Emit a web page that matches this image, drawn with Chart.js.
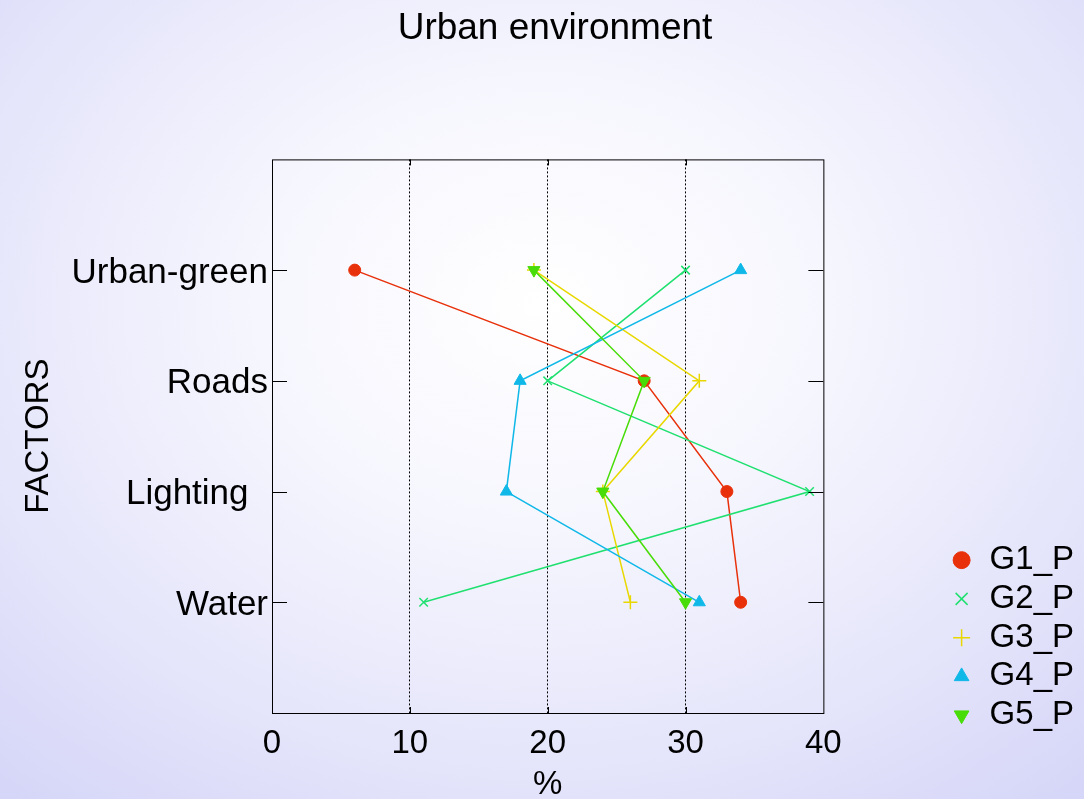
<!DOCTYPE html>
<html>
<head>
<meta charset="utf-8">
<title>Urban environment</title>
<script src="https://cdn.jsdelivr.net/npm/chart.js@4.4.1/dist/chart.umd.min.js"></script>
<style>
  html, body { margin: 0; padding: 0; }
  body {
    width: 1084px; height: 799px; overflow: hidden;
    background: radial-gradient(ellipse 75% 80% at 50% 38%, #ffffff 0%, #f6f6fe 35%, #e6e6fb 70%, #d6d6f8 100%);
  }
</style>
</head>
<body>
<canvas id="chartUrban" width="1084" height="799"></canvas>
<script>
const factores = ['Urban-green', 'Roads', 'Lighting  ', 'Water']
const grupos = ['G1_P', 'G2_P', 'G3_P', 'G4_P', 'G5_P']
const g1 = [6, 27, 33, 34]
const g2 = [30, 20, 39, 11]
const g3 = [19, 31, 24, 26]
const g4 = [34, 18, 17, 31]
const g5 = [19, 27, 24, 30]
const xTicks = [0, 10, 20, 30, 40]

const fuente = '"Liberation Sans", Arial, sans-serif'
Chart.defaults.color = '#000'
Chart.defaults.font.family = fuente

const estilos = [
    { color: '#e8300a', pointStyle: 'circle', radius: 6, bw: 1, rot: 0 },
    { color: '#20e070', pointStyle: 'crossRot', radius: 6, bw: 1.5, rot: 0 },
    { color: '#e8d800', pointStyle: 'cross', radius: 7, bw: 1.5, rot: 0 },
    { color: '#10b8e8', pointStyle: 'triangle', radius: 7, bw: 1, rot: 0 },
    { color: '#48dc08', pointStyle: 'triangle', radius: 7, bw: 1, rot: 180 }
]

const series = [g1, g2, g3, g4, g5]

// marco con ticks hacia adentro
const marco = {
    id: 'marco',
    afterDatasetsDraw(chart) {
        const { ctx, chartArea: a, scales } = chart
        ctx.save()
        ctx.strokeStyle = '#000'
        ctx.lineWidth = 1
        ctx.strokeRect(a.left + 0.5, a.top + 0.5, a.right - a.left, a.bottom - a.top)
        ctx.beginPath()
        factores.forEach((f, i) => {
            const y = Math.round(scales.y.getPixelForValue(i + 1)) + 0.5
            ctx.moveTo(a.left, y); ctx.lineTo(a.left + 15, y)
            ctx.moveTo(a.right - 15, y); ctx.lineTo(a.right, y)
        })
        xTicks.slice(1, -1).forEach(v => {
            const x = Math.round(scales.x.getPixelForValue(v)) + 0.5
            ctx.moveTo(x, a.top); ctx.lineTo(x, a.top + 6)
            ctx.moveTo(x, a.bottom - 6); ctx.lineTo(x, a.bottom)
        })
        ctx.stroke()
        ctx.restore()
    }
}

const canvas = document.getElementById('chartUrban')
const context = canvas.getContext('2d')

const chartUrban = new Chart(context, {
    type: 'line',
    data: {
        datasets: grupos.map((g, k) => ({
            label: g,
            data: series[k].map((v, i) => ({ x: v, y: i + 1 })),
            borderColor: estilos[k].color,
            backgroundColor: estilos[k].color,
            borderWidth: 1.5,
            pointStyle: estilos[k].pointStyle,
            pointRadius: estilos[k].radius,
            pointBorderWidth: estilos[k].bw,
            pointRotation: estilos[k].rot,
            pointBackgroundColor: estilos[k].color,
            pointBorderColor: estilos[k].color,
            fill: false,
            tension: 0,
            order: grupos.length - k
        }))
    },
    options: {
        responsive: false,
        animation: false,
        indexAxis: 'y',
        layout: { padding: { left: 26, right: 0, top: 0, bottom: 0 } },
        plugins: {
            tooltip: { enabled: false },
            title: {
                display: true,
                text: 'Urban environment',
                font: { size: 37, weight: 'normal', family: fuente },
                color: '#000',
                padding: { top: 7, bottom: 108 }
            },
            legend: {
                position: 'right',
                align: 'start',
                title: { display: true, text: '', font: { size: 12 }, padding: { top: 0, bottom: 523.5 } },
                labels: {
                    usePointStyle: true,
                    boxWidth: 23,
                    boxHeight: 12,
                    padding: 5.75,
                    font: { size: 33, family: fuente },
                    color: '#000',
                    sort: (a, b) => a.datasetIndex - b.datasetIndex
                }
            }
        },
        scales: {
            x: {
                type: 'linear',
                position: 'bottom',
                min: 0,
                max: 40,
                ticks: { stepSize: 10, padding: 11, font: { size: 33 } },
                grid: {
                    drawTicks: false,
                    color: c => (c.tick && c.tick.value > 0 && c.tick.value < 40) ? '#000' : 'rgba(0,0,0,0)',
                    lineWidth: 1
                },
                border: { display: false, dash: [2, 2] },
                title: {
                    display: true,
                    text: '%',
                    font: { size: 33 },
                    padding: { top: 0, bottom: -6 }
                },
                afterFit: s => { s.height = 86 }
            },
            y: {
                type: 'linear',
                position: 'left',
                min: 0,
                max: 5,
                reverse: true,
                afterBuildTicks: s => { s.ticks = factores.map((f, i) => ({ value: i + 1 })) },
                ticks: {
                    padding: 4,
                    labelOffset: 3,
                    font: { size: 35 },
                    callback: v => factores[v - 1] ?? ''
                },
                grid: { display: false, drawTicks: false },
                border: { display: false },
                title: {
                    display: true,
                    text: 'FACTORS',
                    font: { size: 33 },
                    padding: { top: -7, bottom: 0 }
                },
                afterFit: s => { s.width = 246 }
            },
            yR: {
                type: 'linear',
                position: 'right',
                min: 0,
                max: 5,
                ticks: { display: false },
                grid: { display: false, drawTicks: false },
                border: { display: false },
                afterFit: s => { s.width = 121 }
            }
        }
    },
    plugins: [marco]
})
</script>
</body>
</html>
